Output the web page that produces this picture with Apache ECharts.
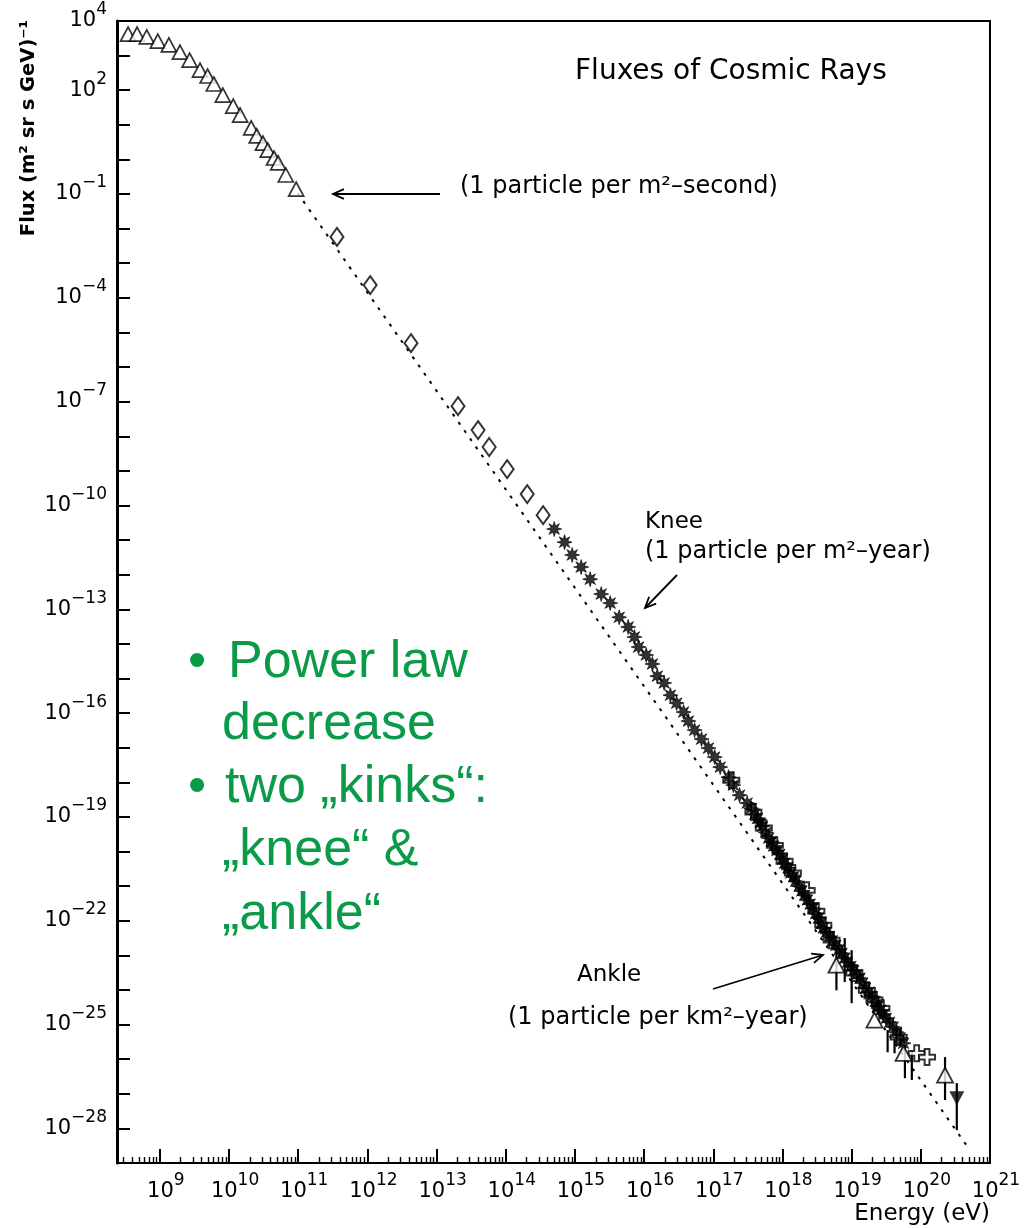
<!DOCTYPE html>
<html><head><meta charset="utf-8">
<script src="https://cdn.jsdelivr.net/npm/echarts@6/dist/echarts.min.js"></script>
<style>html,body{margin:0;padding:0;background:#fff}#c{width:1026px;height:1228px}</style>
</head><body><div id="c"></div>
<script>
// All values are log10: [log10(Energy / eV), log10(Flux / (m^2 sr s GeV)^-1)]
const lowEnergyTriangles = [
  [8.54,3.62],[8.67,3.62],[8.81,3.54],[8.97,3.42],[9.13,3.31],[9.29,3.10],[9.43,2.87],
  [9.58,2.58],[9.69,2.41],[9.78,2.18],[9.91,1.86],[10.06,1.54],[10.16,1.28],[10.32,0.91],
  [10.40,0.68],[10.49,0.47],[10.56,0.27],[10.65,0.04],[10.71,-0.10],[10.82,-0.45],[10.97,-0.86]
];
const diamonds = [
  [11.56,-2.24],[12.04,-3.63],[12.63,-5.31],[13.31,-7.13],[13.60,-7.82],
  [13.76,-8.31],[14.02,-8.95],[14.31,-9.67],[14.54,-10.28]
];
const asterisks = [
  [14.70,-10.68],[14.85,-11.06],[14.96,-11.43],[15.09,-11.78],[15.22,-12.13],[15.38,-12.56],
  [15.51,-12.82],[15.64,-13.23],[15.77,-13.51],[15.86,-13.80],[15.92,-14.09],[16.03,-14.32],
  [16.12,-14.58],[16.19,-14.93],[16.29,-15.13],[16.38,-15.48],[16.47,-15.71],[16.57,-15.97],
  [16.64,-16.23],[16.73,-16.49],[16.83,-16.75],[16.93,-17.01],[17.02,-17.27],[17.10,-17.56],
  [17.22,-17.85],[17.29,-18.08],[17.38,-18.37],[17.49,-18.60],
  [17.55,-18.75],[17.60,-18.92],[17.64,-19.04],[17.68,-19.17],[17.71,-19.27],[17.76,-19.45],
  [17.80,-19.61],[17.84,-19.72],[17.87,-19.84],[17.92,-19.97],[17.96,-20.08],[18.00,-20.22],
  [18.03,-20.34],[18.08,-20.47],[18.12,-20.62],[18.16,-20.73],[18.19,-20.86],[18.24,-21.00],
  [18.28,-21.14],[18.32,-21.26],[18.36,-21.40],[18.40,-21.52],[18.44,-21.64],[18.48,-21.79],
  [18.52,-21.92],[18.56,-22.06],[18.59,-22.21],[18.64,-22.32],[18.68,-22.45],[18.72,-22.58],
  [18.77,-22.71],[18.82,-22.83],[18.86,-22.94],[18.90,-23.08],[18.94,-23.20],[18.99,-23.32],
  [19.03,-23.43],[19.08,-23.55],[19.12,-23.66],[19.16,-23.80],[19.20,-23.95],[19.25,-24.06],
  [19.29,-24.18],[19.34,-24.33],[19.38,-24.47],[19.42,-24.58],[19.46,-24.70],[19.50,-24.82],
  [19.55,-24.93],[19.60,-25.07],[19.65,-25.22],[19.70,-25.38],[19.75,-25.54]
];
const openCrosses = [
  [17.26,-17.94],[17.58,-18.86],[17.73,-19.32],[17.89,-19.82],[18.03,-20.28],[18.15,-20.62],
  [18.35,-21.12],[18.49,-21.72],[18.59,-22.13],[18.71,-22.56],[19.04,-23.51],[19.22,-24.01],
  [19.33,-24.29],[19.43,-24.53],[19.68,-25.36],[19.94,-25.83],[20.09,-25.94]
];
const highEnergyTriangles = [[18.78,-23.28],[19.33,-24.87],[19.75,-25.83],[20.35,-26.46]];
const upperLimit = [[20.52,-27.13]];
// [log10 E, log10 flux high, log10 flux low]
const errorBars = [
  [18.78,-22.91,-24.01],[18.90,-22.50,-23.77],[19.00,-22.85,-24.38],[19.52,-25.16,-25.80],
  [19.62,-25.30,-25.83],[19.77,-25.60,-26.55],[19.87,-25.75,-26.60],[20.35,-25.94,-27.18],
  [20.52,-26.69,-28.05]
];
const powerLawLine = [[10.99,-0.97],[20.71,-28.63]];
const xLabelExps = [9,10,11,12,13,14,15,16,17,18,19,20,21];
const yLabelExps = [4,2,-1,-4,-7,-10,-13,-16,-19,-22,-25,-28];
const yTickExps = [-28,-27,-26,-25,-24,-23,-22,-21,-20,-19,-18,-17,-16,-15,-14,-13,-12,-11,-10,-9,-8,-7,-6,-5,-4,-3,-2,-1,0,1,2,3];
const xMin = 8.38, xMax = 21, yMin = -29, yMax = 4;

// minor tick positions (2..9 within each decade)
const xMinorTicks = [];
for (let n = 8; n <= 20; n++) for (let k = 2; k <= 9; k++) {
  const v = n + Math.log10(k);
  if (v > xMin && v < xMax) xMinorTicks.push(v);
}
const xMajorTicks = xLabelExps.filter(v => v < xMax);

function starPath(points, rOut, rIn) {
  let d = '';
  for (let i = 0; i < points * 2; i++) {
    const r = i % 2 ? rIn : rOut;
    const a = Math.PI * i / points - Math.PI / 2;
    d += (i ? 'L' : 'M') + (r * Math.cos(a)).toFixed(3) + ',' + (r * Math.sin(a)).toFixed(3);
  }
  return 'path://' + d + 'Z';
}
const asteriskSym = starPath(8, 1, 0.45);
const plusSym = 'path://M-0.3,-1L0.3,-1L0.3,-0.3L1,-0.3L1,0.3L0.3,0.3L0.3,1L-0.3,1L-0.3,0.3L-1,0.3L-1,-0.3L-0.3,-0.3Z';

const FONT = '"DejaVu Sans", sans-serif';
const expLabel = v => '{b|10}{e|' + String(v).replace('-', '\u2212') + '}';
const richLab = {
  b: {fontSize: 21, fontFamily: FONT, color: '#000', lineHeight: 30, verticalAlign: 'bottom'},
  e: {fontSize: 17, fontFamily: FONT, color: '#000', verticalAlign: 'top'}
};

function arrow(tail, tip) {
  const dx = tip[0] - tail[0], dy = tip[1] - tail[1];
  const L = Math.hypot(dx, dy), ux = dx / L, uy = dy / L;
  const h = 12, a = 0.42;
  const c = Math.cos(a), s = Math.sin(a);
  const p1 = [tip[0] - h * (ux * c - uy * s), tip[1] - h * (uy * c + ux * s)];
  const p2 = [tip[0] - h * (ux * c + uy * s), tip[1] - h * (uy * c - ux * s)];
  return [
    {type: 'line', shape: {x1: tail[0], y1: tail[1], x2: tip[0], y2: tip[1]}, style: {stroke: '#000', lineWidth: 1.8}},
    {type: 'polyline', shape: {points: [p1, tip, p2]}, style: {stroke: '#000', lineWidth: 1.8, fill: null}}
  ];
}
function txt(text, x, y, size, opts) {
  opts = opts || {};
  return {type: 'text', x: x, y: y, rotation: opts.rot || 0, z: 100,
    style: {text: text, font: (opts.weight || 'normal') + ' ' + size + 'px ' + (opts.family || FONT),
      fill: opts.color || '#000', align: opts.align || 'left', verticalAlign: 'middle'}};
}
const GREEN = '#0b9a48';
const GF = '"Liberation Sans", Arial, sans-serif';

const graphics = [
  txt('Fluxes of Cosmic Rays', 575, 72, 28),
  txt('(1 particle per m\u00b2\u2013second)', 460, 187, 24),
  txt('Knee', 645, 522, 23),
  txt('(1 particle per m\u00b2\u2013year)', 645, 552, 24),
  txt('Ankle', 577, 975, 23),
  txt('(1 particle per km\u00b2\u2013year)', 508, 1018, 24),
  txt('Energy (eV)', 990, 1214, 23, {align: 'right'}),
  txt('Flux (m\u00b2 sr s GeV)\u207b\u00b9', 29, 128, 19.5, {rot: Math.PI / 2, align: 'center', weight: 'bold'}),
  txt('\u2022', 188, 663, 52, {family: GF, color: GREEN}),
  txt('Power law', 228, 663, 52, {family: GF, color: GREEN}),
  txt('decrease', 222, 725, 52, {family: GF, color: GREEN}),
  txt('\u2022', 188, 788, 52, {family: GF, color: GREEN}),
  txt('two \u201ekinks\u201c:', 225, 788, 52, {family: GF, color: GREEN}),
  txt('\u201eknee\u201c &', 222, 851, 52, {family: GF, color: GREEN}),
  txt('\u201eankle\u201c', 222, 915, 52, {family: GF, color: GREEN})
].concat(arrow([440, 194], [333, 194]), arrow([677, 575], [645, 608]), arrow([713, 989], [823, 955]));

const chart = echarts.init(document.getElementById('c'), null, {renderer: 'canvas'});
chart.setOption({
  animation: false,
  backgroundColor: '#fff',
  grid: {left: 117, right: 36, top: 21, bottom: 65, show: true, borderColor: '#000', borderWidth: 2, backgroundColor: 'transparent'},
  xAxis: [{
    type: 'value', min: xMin, max: xMax, position: 'bottom',
    axisLine: {show: true, onZero: false, lineStyle: {color: '#000', width: 2}},
    axisTick: {show: true, inside: true, length: 14, customValues: xMajorTicks, lineStyle: {color: '#000', width: 2}},
    axisLabel: {show: true, customValues: xLabelExps, margin: 9, formatter: expLabel, rich: richLab, padding: [0, 0, 0, 12]},
    splitLine: {show: false}
  }, {
    type: 'value', min: xMin, max: xMax, position: 'bottom',
    axisLine: {show: false, onZero: false},
    axisTick: {show: true, inside: true, length: 6, customValues: xMinorTicks, lineStyle: {color: '#000', width: 1.4}},
    axisLabel: {show: false},
    splitLine: {show: false}
  }],
  yAxis: [{
    type: 'value', min: yMin, max: yMax,
    axisLine: {show: true, onZero: false, lineStyle: {color: '#000', width: 3}},
    axisTick: {show: true, inside: true, length: 13, customValues: yTickExps, lineStyle: {color: '#000', width: 2}},
    axisLabel: {show: true, customValues: yLabelExps, margin: 10, formatter: expLabel, rich: richLab, padding: [0, 0, 9, 0]},
    splitLine: {show: false}
  }],
  series: [
    {type: 'line', data: powerLawLine, symbol: 'none', silent: true,
      lineStyle: {color: '#000', width: 2, type: [3, 7]}, z: 1},
    {type: 'scatter', data: lowEnergyTriangles, symbol: 'triangle', symbolSize: [15, 14],
      itemStyle: {color: '#fff', borderColor: '#000', borderWidth: 1.7}, z: 3},
    {type: 'scatter', data: diamonds, symbol: 'diamond', symbolSize: [13, 18],
      itemStyle: {color: '#fff', borderColor: '#000', borderWidth: 2}, z: 3},
    {type: 'custom', data: errorBars, encode: {x: 0, y: [1, 2]}, z: 2,
      renderItem: function (params, api) {
        const p1 = api.coord([api.value(0), api.value(1)]);
        const p2 = api.coord([api.value(0), api.value(2)]);
        return {type: 'line', shape: {x1: p1[0], y1: p1[1], x2: p2[0], y2: p2[1]}, style: {stroke: '#000', lineWidth: 2.2}};
      }},
    {type: 'scatter', data: openCrosses, symbol: plusSym, symbolSize: 16,
      itemStyle: {color: '#fff', borderColor: '#000', borderWidth: 2}, z: 3},
    {type: 'scatter', data: asterisks, symbol: asteriskSym, symbolSize: 15,
      itemStyle: {color: '#000', borderColor: '#000', borderWidth: 0.8}, z: 4},
    {type: 'scatter', data: highEnergyTriangles, symbol: 'triangle', symbolSize: [16, 15],
      itemStyle: {color: '#fff', borderColor: '#000', borderWidth: 1.8}, z: 5},
    {type: 'scatter', data: upperLimit, symbol: 'triangle', symbolRotate: 180, symbolSize: [15, 14],
      itemStyle: {color: '#000'}, z: 5}
  ],
  graphic: graphics
});
</script>
</body></html>
